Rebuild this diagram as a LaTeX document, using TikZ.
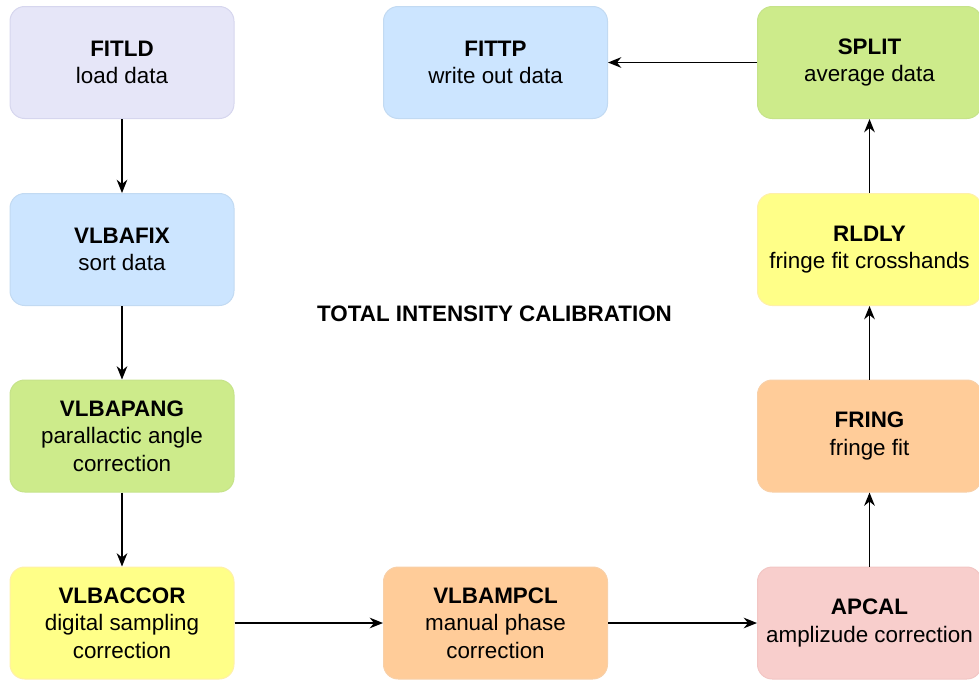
\documentclass[tikz,border=0pt]{standalone}
\usepackage{fontspec}
\setmainfont{Liberation Sans}
\usetikzlibrary{arrows.meta}
\definecolor{lavfill}{HTML}{E6E6F8}
\definecolor{lavline}{HTML}{D6D6EE}
\definecolor{bluefill}{HTML}{CCE5FF}
\definecolor{blueline}{HTML}{C2DAF2}
\definecolor{greenfill}{HTML}{CDEB8B}
\definecolor{greenline}{HTML}{C6E38A}
\definecolor{yellowfill}{HTML}{FFFF88}
\definecolor{yellowline}{HTML}{FFF0A8}
\definecolor{orangefill}{HTML}{FFCC99}
\definecolor{orangeline}{HTML}{F8D0A8}
\definecolor{pinkfill}{HTML}{F8CECC}
\definecolor{pinkline}{HTML}{F2C6C4}
\tikzset{task/.style={draw, line width=0.75pt, rounded corners=11pt,
    minimum width=168pt, minimum height=84pt, inner sep=0pt, align=center,
    font=\fontsize{16.8}{20.5}\selectfont},
  flow/.style={-{Stealth[length=10pt,width=8pt]}, line width=1pt}}

\begin{document}
\begin{tikzpicture}[x=0.75pt,y=-0.75pt]
    \useasboundingbox (0,0) rectangle (979,679);% page size
    % left column
    \node[task, fill=lavfill, draw=lavline] (fitld) at (122,62.5)
        {\textbf{FITLD}\\load data};
    \node[task, fill=bluefill, draw=blueline] (vlbafix) at (122,249.5)
        {\textbf{VLBAFIX}\\sort data};
    \node[task, fill=greenfill, draw=greenline] (vlbapang) at (122,436)
        {\textbf{VLBAPANG}\\parallactic angle\\correction};
    \node[task, fill=yellowfill, draw=yellowline] (vlbaccor) at (122,623)
        {\textbf{VLBACCOR}\\digital sampling\\correction};
    % bottom row
    \node[task, fill=orangefill, draw=orangeline] (vlbampcl) at (495.5,623)
        {\textbf{VLBAMPCL}\\manual phase\\correction};
    \node[task, fill=pinkfill, draw=pinkline] (apcal) at (869.5,623)
        {\textbf{APCAL}\\amplizude correction};
    % right column
    \node[task, fill=orangefill, draw=orangeline] (fring) at (869.5,436)
        {\textbf{FRING}\\fringe fit};
    \node[task, fill=yellowfill, draw=yellowline] (rldly) at (869.5,249.5)
        {\textbf{RLDLY}\\fringe fit crosshands};
    \node[task, fill=greenfill, draw=greenline] (split) at (869.5,62.5)
        {\textbf{SPLIT}\\average data};
    \node[task, fill=bluefill, draw=blueline] (fittp) at (495.5,62.5)
        {\textbf{FITTP}\\write out data};
    % title
    \node[font=\fontsize{16.8}{20}\selectfont\bfseries] (title) at (494.5,314)
        {TOTAL INTENSITY CALIBRATION};
    % arrows
    \draw[flow] (fitld) -- (vlbafix);
    \draw[flow] (vlbafix) -- (vlbapang);
    \draw[flow] (vlbapang) -- (vlbaccor);
    \draw[flow] (vlbaccor) -- (vlbampcl);
    \draw[flow] (vlbampcl) -- (apcal);
    \draw[flow] (apcal) -- (fring);
    \draw[flow] (fring) -- (rldly);
    \draw[flow] (rldly) -- (split);
    \draw[flow] (split) -- (fittp);
\end{tikzpicture}
\end{document}
